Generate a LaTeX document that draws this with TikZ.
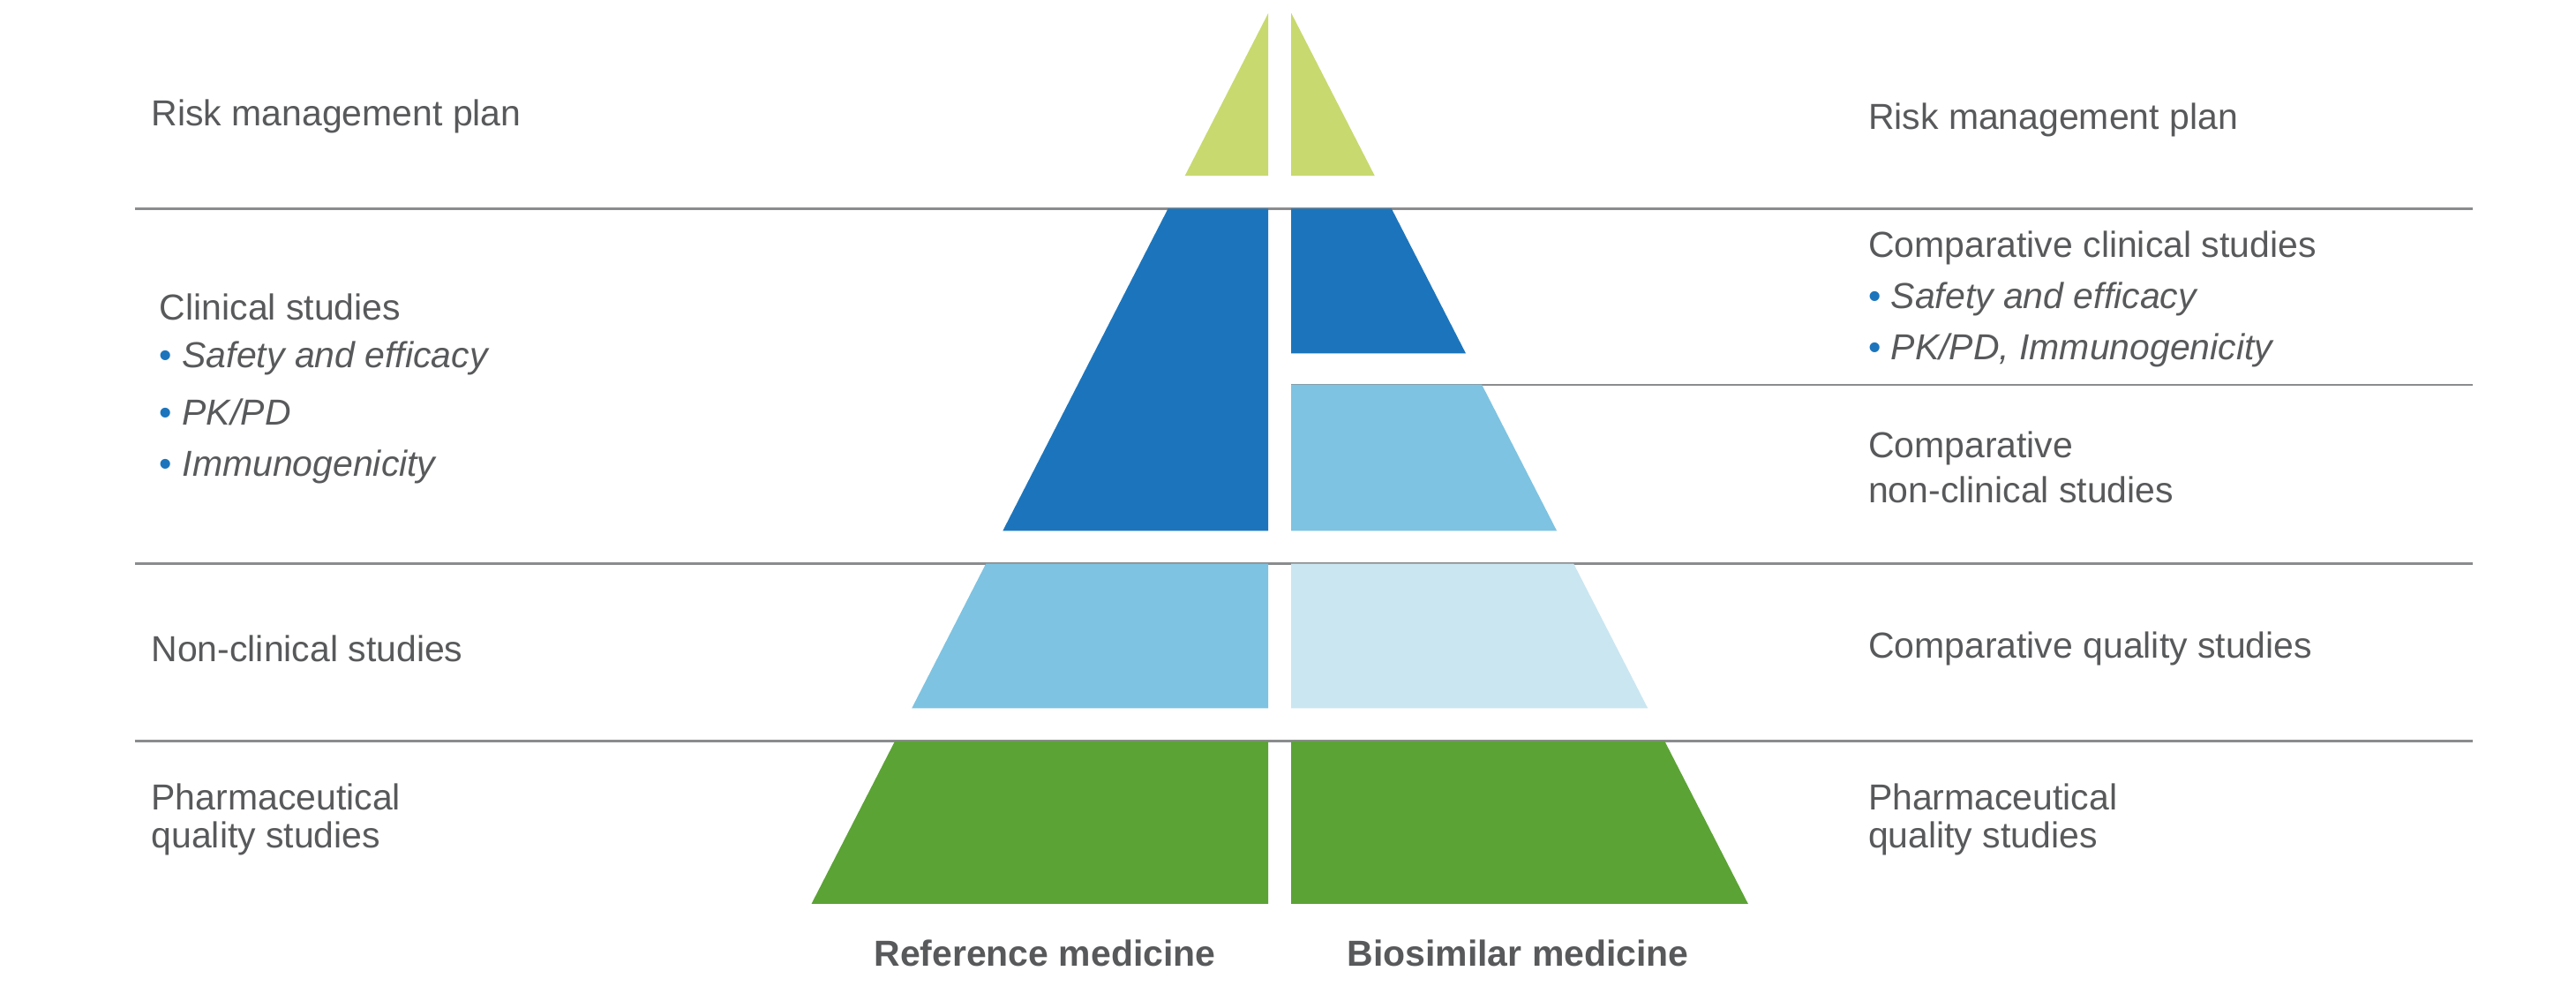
\documentclass[tikz,border=0pt]{standalone}
\usepackage{fontspec}
\setmainfont{Liberation Sans}
\definecolor{lgreen}{HTML}{C8D96F}
\definecolor{dblue}{HTML}{1C75BC}
\definecolor{lblue}{HTML}{7EC3E1}
\definecolor{pblue}{HTML}{CAE6F1}
\definecolor{dgreen}{HTML}{5BA335}
\definecolor{tgray}{HTML}{58595B}
\definecolor{lgray}{HTML}{8A8C8E}
\begin{document}
\begin{tikzpicture}[x=1pt,y=-1pt,
  lab/.style={anchor=west,text=tgray,font=\fontsize{22}{26}\selectfont,align=left,inner sep=0},
  sep/.style={draw=lgray,line width=1.2pt},
  blt/.style={text=dblue}]
\useasboundingbox (0,0) rectangle (1568,600);
\def\L#1{772-0.513*(#1-8)}
\def\R#1{786+0.513*(#1-8)}
% lines
\draw[sep] (82,127) -- (1505,127);
\draw[sep] (82,343) -- (1505,343);
\draw[sep] (82,451) -- (1505,451);
\draw[sep] (786,234) -- (1505,234);
% left half
\fill[lgreen] ({\L{8}},8) -- ({\L{107}},107) -- (772,107) -- cycle;
\fill[dblue] ({\L{127}},127) -- ({\L{323}},323) -- (772,323) -- (772,127) -- cycle;
\fill[lblue] ({\L{343}},343) -- ({\L{431}},431) -- (772,431) -- (772,343) -- cycle;
\fill[dgreen] ({\L{451}},451) -- ({\L{550}},550) -- (772,550) -- (772,451) -- cycle;
% right half
\fill[lgreen] ({\R{8}},8) -- ({\R{107}},107) -- (786,107) -- cycle;
\fill[dblue] ({\R{127}},127) -- ({\R{215}},215) -- (786,215) -- (786,127) -- cycle;
\fill[lblue] ({\R{234}},234) -- ({\R{323}},323) -- (786,323) -- (786,234) -- cycle;
\fill[pblue] ({\R{343}},343) -- ({\R{431}},431) -- (786,431) -- (786,343) -- cycle;
\fill[dgreen] ({\R{451}},451) -- ({\R{550}},550) -- (786,550) -- (786,451) -- cycle;
% left texts
\node[lab] (l1) at (92,71) {Risk management plan};
\node[lab] (l2) at (97,187) {Clinical studies};
\node[lab] (l2a) at (97,218) {{\color{dblue}•} \textit{Safety and efficacy}};
\node[lab] (l2b) at (97,251) {{\color{dblue}•} \textit{PK/PD}};
\node[lab] (l2c) at (97,284) {{\color{dblue}•} \textit{Immunogenicity}};
\node[lab] (l3) at (92,395) {Non-clinical studies};
\node[lab] (l4) at (92,485) {Pharmaceutical};
\node[lab] (l4b) at (92,510) {quality studies};
% right texts
\node[lab] (r1) at (1137,73) {Risk management plan};
\node[lab] (r2) at (1137,151) {Comparative clinical studies};
\node[lab] (r2a) at (1137,182) {{\color{dblue}•} \textit{Safety and efficacy}};
\node[lab] (r2b) at (1137,213) {{\color{dblue}•} \textit{PK/PD, Immunogenicity}};
\node[lab] (r3) at (1137,273) {Comparative};
\node[lab] (r3b) at (1137,298) {non-clinical studies};
\node[lab] (r4) at (1137,395) {Comparative quality studies};
\node[lab] (r5) at (1137,485) {Pharmaceutical};
\node[lab] (r5b) at (1137,510) {quality studies};
% bottom
\node[lab,anchor=center,font=\fontsize{22}{26}\selectfont\bfseries] (b1) at (636,580) {Reference medicine};
\node[lab,anchor=center,font=\fontsize{22}{26}\selectfont\bfseries] (b2) at (924,580) {Biosimilar medicine};
\end{tikzpicture}
\end{document}
